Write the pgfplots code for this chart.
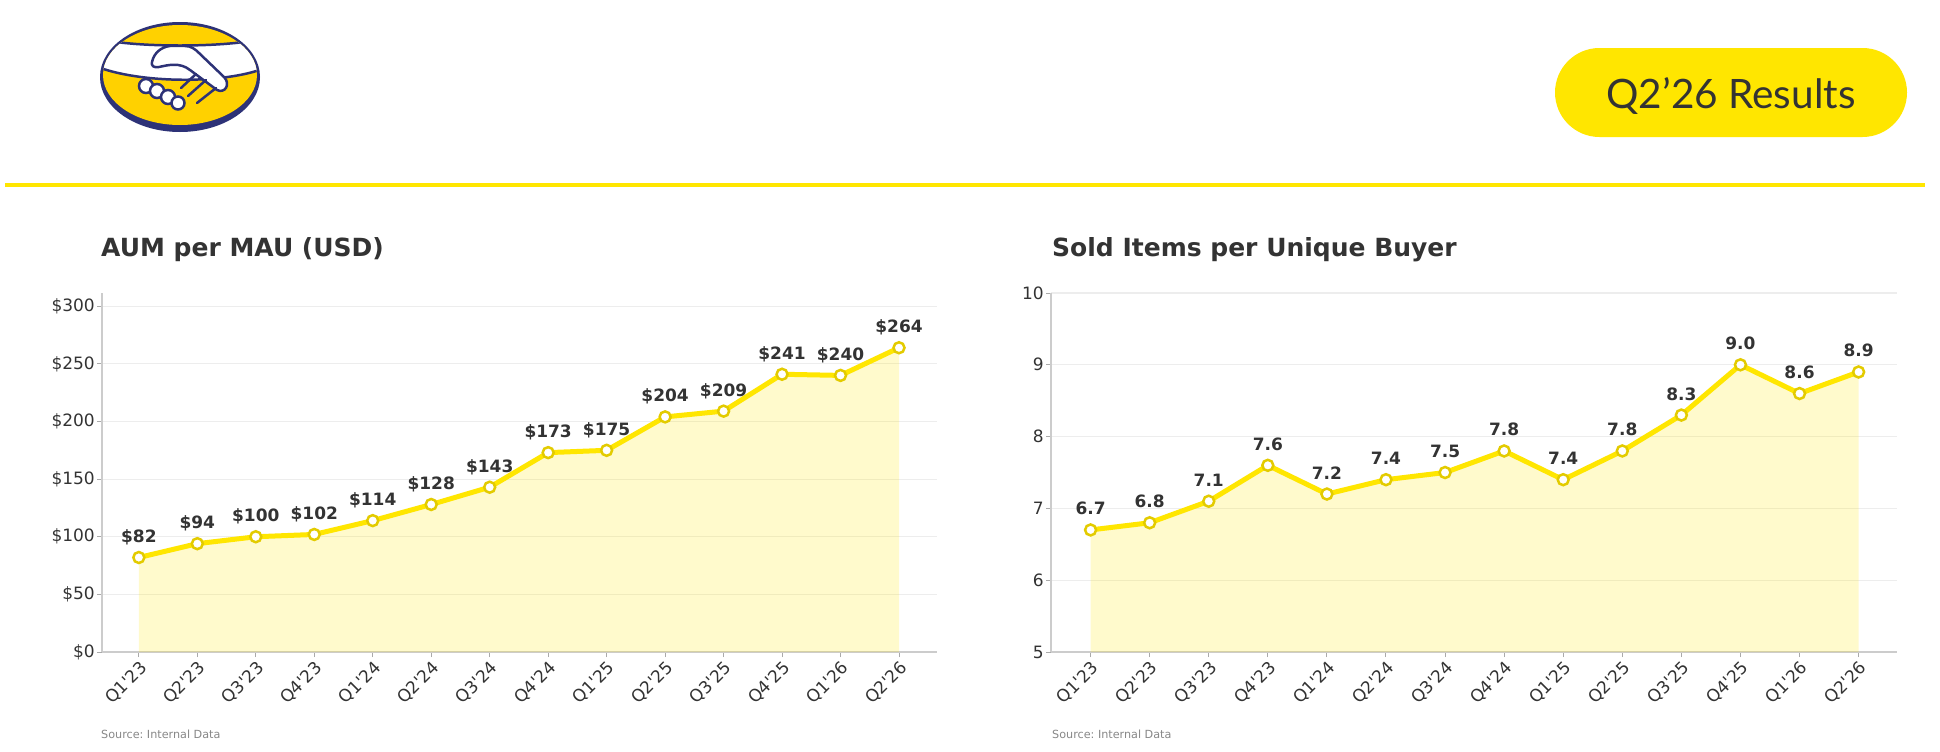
\documentclass[border=0pt]{standalone}
\usepackage{pgfplots}
\pgfplotsset{compat=1.18}
\usepackage{fontspec}
\setmainfont{DejaVu Sans}[Ligatures=TeXOff]
\newfontfamily\latofont{Lato}
\definecolor{myyellow}{HTML}{FFE600}
\definecolor{markedge}{HTML}{E3CB00}
\definecolor{txt}{HTML}{333333}
\definecolor{gridc}{HTML}{EDEDED}
\definecolor{spinec}{HTML}{CCCCCC}
\definecolor{tickc}{HTML}{AAAAAA}
\definecolor{navy}{HTML}{2D3277}
\definecolor{logoyellow}{HTML}{FFD100}
\definecolor{srcgray}{HTML}{888888}

\pgfplotsset{
  mystyle/.style={
    scale only axis,
    anchor=south west,
    height=359bp,
    axis x line*=bottom, axis y line*=left,
    axis line style={-, spinec, line width=1.2bp},
    major tick length=5bp,
    tick align=outside,
    every tick/.style={tickc, line width=1bp},
    ymajorgrids, grid style={gridc, line width=1.2bp},
    xtick={0,...,13},
    xticklabels={Q1'23,Q2'23,Q3'23,Q4'23,Q1'24,Q2'24,Q3'24,Q4'24,Q1'25,Q2'25,Q3'25,Q4'25,Q1'26,Q2'26},
    xticklabel style={rotate=45, anchor=north east, font=\fontsize{17bp}{20bp}\selectfont, text=txt, inner sep=2bp},
    yticklabel style={font=\fontsize{17bp}{20bp}\selectfont, text=txt, inner sep=2bp},
    /pgf/number format/assume math mode=true,
    every node near coord/.append style={anchor=base, yshift=15bp, font=\bfseries\fontsize{17bp}{20bp}\selectfont, text=txt},
  },
  fillstyle/.style={draw=none, fill=myyellow, fill opacity=0.2, forget plot},
  linestyle/.style={myyellow, line width=5bp, mark=*, mark size=5.5bp,
    mark options={fill=white, draw=markedge, line width=2.5bp}},
}

\pgfplotstableread{
x y
0 82
1 94
2 100
3 102
4 114
5 128
6 143
7 173
8 175
9 204
10 209
11 241
12 240
13 264
}\aumdata

\pgfplotstableread{
x y
0 6.7
1 6.8
2 7.1
3 7.6
4 7.2
5 7.4
6 7.5
7 7.8
8 7.4
9 7.8
10 8.3
11 9.0
12 8.6
13 8.9
}\solddata

\begin{document}
\frenchspacing
\begin{tikzpicture}
\path[fill=white, use as bounding box] (0,0) rectangle (1940bp,-752bp);

% header line
\draw[myyellow, line width=3.5bp] (5bp,-185bp) -- (1925bp,-185bp);

% badge
\fill[myyellow, rounded corners=44.5bp] (1555bp,-48bp) rectangle (1907bp,-137bp);
\node[anchor=base, font=\latofont\fontsize{40.5bp}{44bp}\selectfont, text=txt, inner sep=0] at (1731bp,-108bp) {Q2’26 Results};

% logo
\begin{scope}[x=1bp, y=-1bp]
  \fill[navy] (180,77) ellipse [x radius=80, y radius=55];
  \fill[logoyellow] (180,75) ellipse [x radius=77, y radius=50];
  \begin{scope}
    \clip (180,75) ellipse [x radius=77, y radius=50];
    \filldraw[white, draw=navy, line width=2.5] (95,38) .. controls (130,48) and (230,48) .. (265,38)
      -- (265,68) .. controls (225,84) and (140,84) .. (95,66) -- cycle;
  \end{scope}
  % upper hand
  \filldraw[white, draw=navy, line width=2.5, line join=round]
    (152,62) .. controls (154,53) and (161,47) .. (170,46) -- (185,46)
    .. controls (191,46) and (195,49) .. (199,53) -- (224,77)
    .. controls (231,84) and (225,94) .. (217,90) -- (190,70)
    .. controls (180,62) and (168,65) .. (159,67)
    .. controls (154,68) and (151,66) .. (152,62) -- cycle;
  % finger lines of upper hand
  \draw[navy, line width=2.5, line cap=round] (206,80) -- (188,96);
  \draw[navy, line width=2.5, line cap=round] (216,88) -- (197,103);
  \draw[navy, line width=2.5, line cap=round] (196,74) -- (181,88);
  % lower-left hand knuckles
  \filldraw[white, draw=navy, line width=2.5] (146,86) circle [radius=7];
  \filldraw[white, draw=navy, line width=2.5] (157,91) circle [radius=7];
  \filldraw[white, draw=navy, line width=2.5] (168,97) circle [radius=7];
  \filldraw[white, draw=navy, line width=2.5] (178,103) circle [radius=6.5];
\end{scope}

% titles and sources
\node[anchor=base west, font=\bfseries\fontsize{25bp}{30bp}\selectfont, text=txt, inner sep=0] at (101bp,-256bp) {AUM per MAU (USD)};
\node[anchor=base west, font=\bfseries\fontsize{25bp}{30bp}\selectfont, text=txt, inner sep=0] at (1052bp,-256bp) {Sold Items per Unique Buyer};
\node[anchor=base west, font=\fontsize{11.2bp}{14bp}\selectfont, text=srcgray, inner sep=0] at (101bp,-738bp) {Source: Internal Data};
\node[anchor=base west, font=\fontsize{11.2bp}{14bp}\selectfont, text=srcgray, inner sep=0] at (1052bp,-738bp) {Source: Internal Data};

% left chart
\begin{axis}[mystyle, at={(102bp,-652bp)}, width=835bp,
  xmin=-0.63, xmax=13.65, ymin=0, ymax=311.5,
  ytick={0,50,100,150,200,250,300},
  yticklabels={\$0,\$50,\$100,\$150,\$200,\$250,\$300}]
  \addplot[fillstyle] table[x=x,y=y] {\aumdata} \closedcycle;
  \addplot[linestyle, nodes near coords={\$\pgfmathprintnumber[fixed,precision=0]{\pgfplotspointmeta}}] table[x=x,y=y] {\aumdata};
\end{axis}

% right chart
\begin{axis}[mystyle, at={(1051bp,-652bp)}, width=846bp,
  xmin=-0.67, xmax=13.65, ymin=5, ymax=10,
  ytick={5,6,7,8,9,10}]
  \addplot[fillstyle] table[x=x,y=y] {\solddata} \closedcycle;
  \addplot[linestyle, nodes near coords={\pgfmathprintnumber[fixed,fixed zerofill,precision=1]{\pgfplotspointmeta}}] table[x=x,y=y] {\solddata};
\end{axis}
\end{tikzpicture}
\end{document}
